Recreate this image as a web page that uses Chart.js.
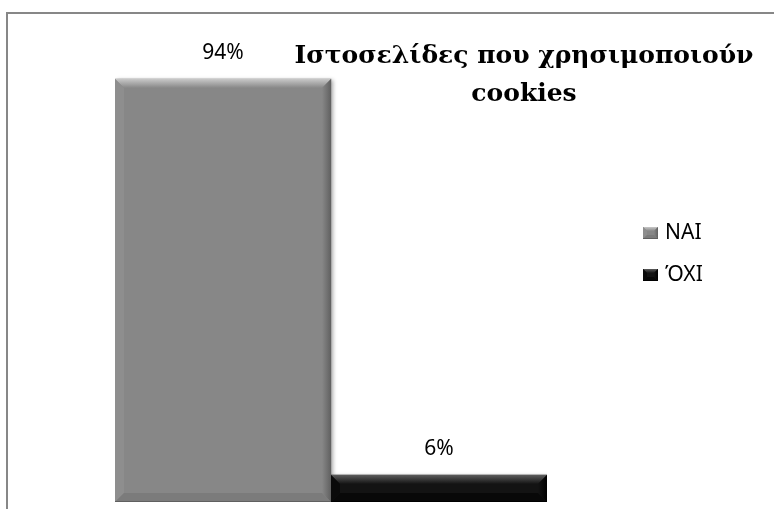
<!DOCTYPE html>
<html>
<head>
<meta charset="utf-8">
<script src="https://cdn.jsdelivr.net/npm/chart.js@4.4.1/dist/chart.umd.min.js"></script>
<style>
    body { margin: 0; background: #fff; }
    #wrap { width: 774px; height: 509px; }
</style>
</head>
<body>
<div id="wrap"><canvas id="cookiesChart" width="774" height="509"></canvas></div>
<script>
const categories = ['ΝΑΙ', 'ΌΧΙ'];
const values = [94, 6];
const valueLabels = ['94%', '6%'];
const titleLines = ['Ιστοσελίδες που χρησιμοποιούν', 'cookies'];
const faceColors = ['#878787', '#131313'];
const bevelLight = ['#c8c8c8', '#5c5c5c'];
const bevelSide = ['#8e8e8e', '#0a0a0a'];
const bevelDark = ['#606060', '#000000'];
const bevelBottom = ['#7b7b7b', '#080808'];

// Bevelled face like the old Excel chart style
function drawBevel(ctx, x0, y0, x1, y1, b, i) {
    const top = ctx.createLinearGradient(0, y0, 0, y0 + b);
    top.addColorStop(0, bevelLight[i]);
    top.addColorStop(1, faceColors[i]);
    ctx.fillStyle = top;
    ctx.beginPath();
    ctx.moveTo(x0, y0); ctx.lineTo(x1, y0); ctx.lineTo(x1 - b, y0 + b); ctx.lineTo(x0 + b, y0 + b);
    ctx.closePath(); ctx.fill();

    ctx.fillStyle = bevelSide[i];
    ctx.beginPath();
    ctx.moveTo(x0, y0); ctx.lineTo(x0 + b, y0 + b); ctx.lineTo(x0 + b, y1 - b); ctx.lineTo(x0, y1);
    ctx.closePath(); ctx.fill();

    const right = ctx.createLinearGradient(x1 - b, 0, x1, 0);
    right.addColorStop(0, faceColors[i]);
    right.addColorStop(1, bevelDark[i]);
    ctx.fillStyle = right;
    ctx.beginPath();
    ctx.moveTo(x1, y0); ctx.lineTo(x1 - b, y0 + b); ctx.lineTo(x1 - b, y1 - b); ctx.lineTo(x1, y1);
    ctx.closePath(); ctx.fill();

    ctx.fillStyle = bevelBottom[i];
    ctx.beginPath();
    ctx.moveTo(x0, y1); ctx.lineTo(x0 + b, y1 - b); ctx.lineTo(x1 - b, y1 - b); ctx.lineTo(x1, y1);
    ctx.closePath(); ctx.fill();

    ctx.fillStyle = bevelDark[i];
    ctx.fillRect(x0, y1 - 1, x1 - x0, 1);
}

const decorPlugin = {
    id: 'decor',
    beforeDraw(chart) {
        const ctx = chart.ctx;
        ctx.save();
        ctx.fillStyle = '#fff';
        ctx.fillRect(0, 0, chart.width, chart.height);
        ctx.strokeStyle = '#878787';
        ctx.lineWidth = 2;
        ctx.strokeRect(7, 13, chart.width + 10, chart.height + 10);
        ctx.restore();
    },
    beforeDatasetsDraw(chart) {
        const ctx = chart.ctx;
        ctx.save();
        ctx.shadowColor = 'rgba(0,0,0,0.35)';
        ctx.shadowBlur = 4;
        ctx.shadowOffsetX = 2;
        ctx.shadowOffsetY = 1;
    },
    afterDatasetsDraw(chart) {
        const ctx = chart.ctx;
        ctx.restore();
        const meta = chart.getDatasetMeta(0);
        meta.data.forEach((bar, i) => {
            const x0 = bar.x - bar.width / 2;
            const x1 = bar.x + bar.width / 2;
            drawBevel(ctx, x0, bar.y, x1, bar.base, 9, i);

            ctx.fillStyle = '#000';
            ctx.font = '21px "Noto Sans"';
            ctx.textAlign = 'center';
            ctx.textBaseline = 'middle';
            ctx.fillText(valueLabels[i], bar.x, bar.y - 26);
        });
    },
    afterDraw(chart) {
        const ctx = chart.ctx;
        ctx.save();
        // title
        ctx.fillStyle = '#000';
        ctx.font = 'bold 25px "DejaVu Serif"';
        ctx.textAlign = 'center';
        ctx.textBaseline = 'alphabetic';
        ctx.fillText(titleLines[0], 524, 63);
        ctx.fillText(titleLines[1], 524, 101);

        // legend
        const rows = [233, 275];
        categories.forEach((c, i) => {
            const y = rows[i];
            ctx.fillStyle = faceColors[i];
            ctx.fillRect(643, y - 6, 15, 12);
            drawBevel(ctx, 643, y - 6, 658, y + 6, 4, i);
            ctx.fillStyle = '#000';
            ctx.font = '21px "Noto Sans"';
            ctx.textAlign = 'left';
            ctx.textBaseline = 'middle';
            ctx.fillText(c, 665, y);
        });
        ctx.restore();
    }
};

new Chart(document.getElementById('cookiesChart'), {
    type: 'bar',
    data: {
        labels: categories,
        datasets: [{
            data: values,
            backgroundColor: faceColors,
            borderWidth: 0,
            barPercentage: 1,
            categoryPercentage: 1
        }]
    },
    options: {
        responsive: false,
        animation: false,
        layout: { padding: { left: 115, right: 227, top: 52, bottom: 7 } },
        scales: {
            x: { display: false },
            y: { display: false, min: 0, max: 100 }
        },
        plugins: {
            legend: { display: false },
            title: { display: false },
            tooltip: { enabled: false }
        }
    },
    plugins: [decorPlugin]
});
</script>
</body>
</html>
